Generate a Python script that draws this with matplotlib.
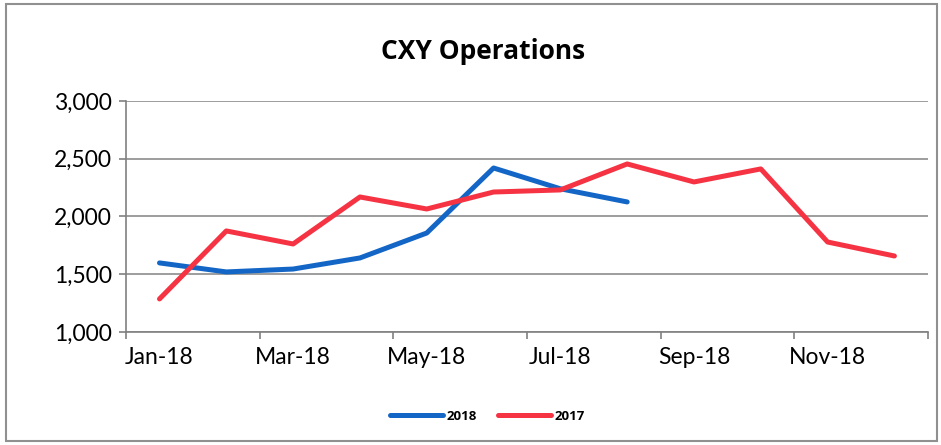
import matplotlib
matplotlib.use('Agg')
import matplotlib.pyplot as plt
from matplotlib.patches import Rectangle
import numpy as np

# data
months = ['Jan-18', 'Feb-18', 'Mar-18', 'Apr-18', 'May-18', 'Jun-18',
          'Jul-18', 'Aug-18', 'Sep-18', 'Oct-18', 'Nov-18', 'Dec-18']
ops_2018 = [1598, 1520, 1545, 1641, 1857, 2420, 2240, 2126]
ops_2017 = [1286, 1875, 1762, 2169, 2065, 2212, 2230, 2455, 2299, 2412, 1779, 1658]

plt.rcParams['font.family'] = ['Lato', 'DejaVu Sans']

fig = plt.figure(figsize=(9.41, 4.45), dpi=100)
ax = fig.add_axes([0.134, 0.254, 0.852, 0.519])

x = np.arange(len(months))
ax.plot(x[:len(ops_2018)], ops_2018, color='#1466c6', lw=3.6, label='2018',
        solid_capstyle='round', zorder=3)
ax.plot(x, ops_2017, color='#f53343', lw=3.6, label='2017',
        solid_capstyle='round', zorder=3)

ax.set_ylim(1000, 3000)
ax.set_yticks([1000, 1500, 2000, 2500, 3000])
ax.set_yticklabels(['{:,}'.format(v) for v in [1000, 1500, 2000, 2500, 3000]])
ax.yaxis.grid(True, color='#8c8c8c', lw=1.2)
ax.set_axisbelow(True)

ax.set_xlim(-0.5, len(months) - 0.5)
ax.set_xticks(np.arange(-0.5, len(months), 2))
ax.set_xticklabels([])
ax.set_xticks(x[::2], minor=True)
ax.set_xticklabels(months[::2], minor=True)
ax.tick_params(axis='x', which='major', length=5, color='#808080', width=1.2)
ax.tick_params(axis='x', which='minor', length=0, pad=11, labelsize=16.5)
ax.tick_params(axis='y', length=5, color='#808080', width=1.2, pad=5, labelsize=16.5)

for s in ['top', 'right']:
    ax.spines[s].set_visible(False)
for s in ['left', 'bottom']:
    ax.spines[s].set_color('#808080')
    ax.spines[s].set_linewidth(1.2)

fig.text(0.513, 0.885, 'CXY Operations', ha='center', va='center',
         fontsize=19, fontweight='bold', family=['Open Sans', 'DejaVu Sans'])

fig.legend(loc='center', bbox_to_anchor=(0.518, 0.065), ncol=2, frameon=False,
           handlelength=4.0, columnspacing=1.6, handletextpad=0.3,
           prop={'weight': 'bold', 'size': 9.5, 'family': ['Open Sans', 'DejaVu Sans']})

# chart frame
fig.patches.append(Rectangle((0.006, 0.008), 0.99, 0.982, transform=fig.transFigure,
                             fill=False, edgecolor='#909090', lw=1.5))

fig.savefig('out.png', dpi=100)
